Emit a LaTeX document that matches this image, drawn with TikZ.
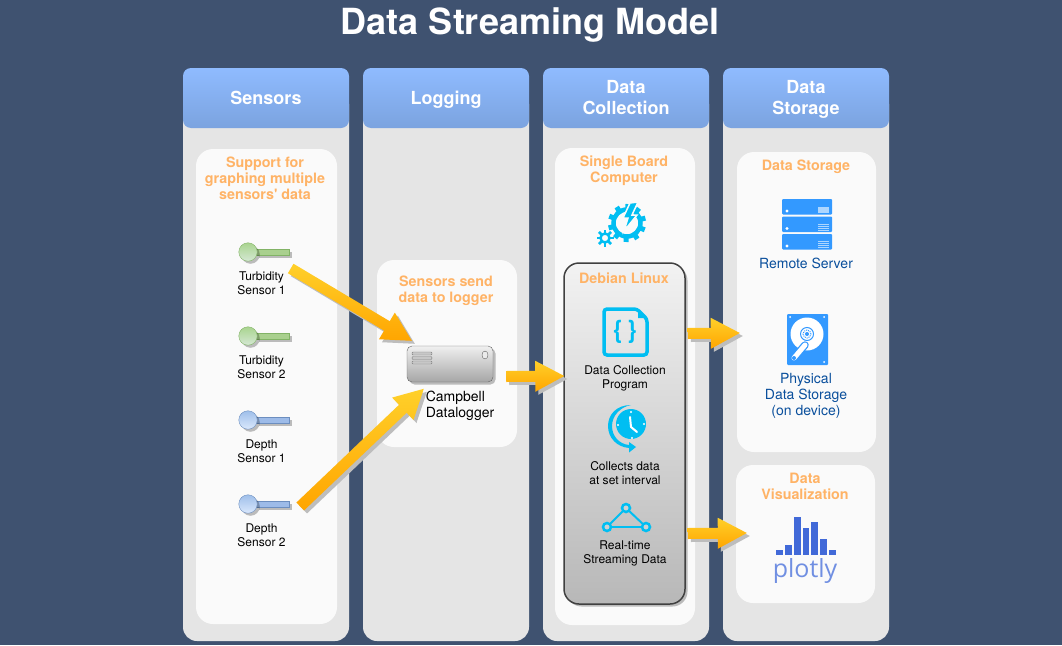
\documentclass[tikz,border=0pt]{standalone}
\usepackage{fontspec}
\setmainfont{TeX Gyre Heros}
\newfontfamily\plotlyfont{Open Sans}
\usetikzlibrary{calc, shadows}
\definecolor{bgblue}{HTML}{3F5270}
\definecolor{panelgrey}{HTML}{E5E5E5}
\definecolor{innerwhite}{HTML}{FAFAFA}
\definecolor{headtop}{HTML}{8FBBFF}
\definecolor{headbot}{HTML}{7BA3DF}
\definecolor{orangetext}{HTML}{FFB366}
\definecolor{bluetext}{HTML}{0A4F9C}
\definecolor{iconcyan}{HTML}{00BEF2}
\definecolor{iconblue}{HTML}{3399FF}
\definecolor{barblue}{HTML}{4169D8}
\definecolor{arrowtop}{HTML}{FFD02A}
\definecolor{arrowbot}{HTML}{FFA500}
\definecolor{arrowshade}{HTML}{BDBDBD}
\tikzstyle{column} = [rectangle, rounded corners=14pt, minimum width=166pt, fill=panelgrey, inner sep=0pt]
\tikzstyle{header} = [rectangle, rounded corners=8pt, minimum width=166pt, minimum height=60pt, top color=headtop, bottom color=headbot]
\tikzstyle{headtext} = [text=white, align=center, inner sep=0pt, font=\fontsize{18}{21}\selectfont\bfseries]
\tikzstyle{inner} = [rectangle, rounded corners=17pt, fill=innerwhite, inner sep=0pt]
\tikzstyle{heading} = [text=orangetext, align=center, inner sep=0pt, font=\fontsize{14.3}{16}\selectfont\bfseries]
\tikzstyle{label} = [text=black, align=center, inner sep=0pt, font=\fontsize{12}{14}\selectfont]
\tikzstyle{bluelabel} = [text=bluetext, align=center, inner sep=0pt, font=\fontsize{14}{16}\selectfont]
\tikzstyle{softshadow} = [drop shadow={shadow xshift=2.5pt, shadow yshift=-2.5pt, fill=black, opacity=0.25}]
\tikzstyle{arrow} = [draw=none, top color=arrowtop, bottom color=arrowbot, preaction={fill=arrowshade, transform canvas={shift={(3pt,-3pt)}}},
  to path={($(\tikztostart)!5.5pt!90:(\tikztotarget)$) -- ($(\tikztotarget)!29pt!(\tikztostart)!5.5pt!90:(\tikztotarget)$) -- ($(\tikztotarget)!29pt!(\tikztostart)!15.5pt!90:(\tikztotarget)$) -- (\tikztotarget) -- ($(\tikztotarget)!29pt!(\tikztostart)!15.5pt!-90:(\tikztotarget)$) -- ($(\tikztotarget)!29pt!(\tikztostart)!5.5pt!-90:(\tikztotarget)$) -- ($(\tikztostart)!5.5pt!-90:(\tikztotarget)$) -- cycle}]
\begin{document}
\begin{tikzpicture}[x=1pt, y=-1pt]
\useasboundingbox (0,0) rectangle (1062,645);
\fill [bgblue] (0,0) rectangle (1062,645);

\node (title) at (530,25.5) [text=white, inner sep=0pt, font=\fontsize{36}{40}\selectfont\bfseries] {Data Streaming Model};

% columns
\foreach \cx/\colname/\coltext in {266/sensors/Sensors, 446/logging/Logging, 626/collection/{Data\\Collection}, 806/storagecol/{Data\\Storage}} {
  \node (\colname) [column, minimum height=551pt] at (\cx,365.5) {};
  \node (\colname head) [header] at (\cx,98) {};
  \node (\colname text) [headtext] at (\cx,99.5) {\coltext\vphantom{g}};
}

% inner panels
\node (sensorbox) [inner, minimum width=141pt, minimum height=475pt] at (266.5,386.5) {};
\node (loggerbox) [inner, minimum width=140pt, minimum height=187pt] at (447,353.5) {};
\node (boardbox) [inner, minimum width=140pt, minimum height=477pt] at (625,386.5) {};
\node (storage) [inner, minimum width=139pt, minimum height=300pt] at (806.5,302) {};
\node (viz) [inner, minimum width=139pt, minimum height=138pt] at (805.5,534) {};

\node (sensorhead) [heading] at (265,178) {Support for\\graphing multiple\\sensors\textquotesingle\ data};
\node (loggerhead) [heading] at (446,291) {Sensors send\\data to logger};
\node (boardhead) [heading] at (624,171) {Single Board\\Computer};
\node (storagehead) [heading] at (806,167) {Data Storage};
\node (vizhead) [heading] at (805,486) {Data\\Visualization};

% sensors
\foreach \n/\ky/\ktop/\kbot/\kedge/\krod/\ktext in {
  1/252/A9D48F/D5E8D4/82B366/A9D08E/{Turbidity\\Sensor 1},
  2/336/A9D48F/D5E8D4/82B366/A9D08E/{Turbidity\\Sensor 2},
  3/420/9FBFEA/DAE8FC/6C8EBF/9DBBE8/{Depth\\Sensor 1},
  4/504/9FBFEA/DAE8FC/6C8EBF/9DBBE8/{Depth\\Sensor 2}} {
  \definecolor{ktopc}{HTML}{\ktop}
  \definecolor{kbotc}{HTML}{\kbot}
  \definecolor{kedgec}{HTML}{\kedge}
  \definecolor{krodc}{HTML}{\krod}
  \node (rod\n) [rectangle, softshadow, minimum width=33pt, minimum height=6pt, inner sep=0pt, draw=kedgec, fill=krodc] at (272.5,\ky) {};
  \node (key\n) [circle, softshadow, minimum size=18.5pt, inner sep=0pt, draw=kedgec, top color=ktopc, bottom color=kbotc] at (248,\ky) {};
  \node (keytext\n) [label] at (261.5,\ky+31) {\ktext};
}

% logger
\node (logger) [rectangle, softshadow, rounded corners=5pt, minimum width=86pt, minimum height=36pt, inner sep=0pt, draw=black!60, top color=black!6, bottom color=black!35] at (450,364) {};
\foreach \sy in {353.5,358,362.5}
  \draw [black!50, fill=black!22, rounded corners=1pt] (412,\sy-1.5) rectangle (432,\sy+1.5);
\draw [black!60, fill=black!8] (485,355) ellipse (3pt and 4pt);
\node (loggertext) [bluelabel, text=black, align=left] at (460,406) {Campbell\\Datalogger};

% debian box
\node (debian) [rectangle, softshadow, rounded corners=15pt, minimum width=121pt, minimum height=341pt, inner sep=0pt, draw=black!75, line width=1.5pt, top color=black!5, bottom color=black!28] at (624.5,433.5) {};
\node (debianhead) [heading] at (624,278) {Debian Linux};

% gear icon
\foreach \a in {0,36,...,324}
  \draw [iconcyan, line width=5pt] (627,223) ++(\a+15:13pt) -- ++(\a+15:6pt);
\draw [iconcyan, line width=4.5pt] (627,223) circle (13.5pt);
\foreach \a in {0,45,...,315}
  \draw [iconcyan, line width=2.5pt] (605,238) ++(\a:5pt) -- ++(\a:3.5pt);
\draw [iconcyan, line width=2.5pt] (605,238) circle (4.5pt);
\filldraw [iconcyan, draw=innerwhite, line width=1.5pt, line join=miter] (630,203) -- (638,202) -- (632,215) -- (637,215) -- (624,231) -- (628,218) -- (623,218) -- cycle;

% program icon
\draw [iconcyan, line width=3.5pt, rounded corners=3pt] (604,309) -- (637,309) -- (647,319) -- (647,355) -- (604,355) -- cycle;
\fill [iconcyan] (638,309) -- (647,318) -- (638,318) -- cycle;
\node (braces) [text=iconcyan, inner sep=0pt, font=\fontsize{25}{25}\selectfont\bfseries] at (625,332) {\{\,\}};
\node (programtext) [label] at (625,378) {Data Collection\\Program};

% clock icon
\fill [iconcyan] (631,405) .. controls (616,405) and (608,415) .. (608,426) .. controls (608,438) and (617,447) .. (629,448) -- (629,452.5) -- (636,447) -- (629,442) -- (629,445) .. controls (619,444) and (612,436) .. (612,426) .. controls (612,416) and (620,407) .. (631,405) -- cycle;
\fill [iconcyan] (631,424) circle (15pt);
\draw [white, line width=2pt, line cap=round, line join=round] (630,417) -- (631,427) -- (637,432);
\foreach \tx/\ty in {631/412, 644/424, 632/438, 618/425}
  \fill [white] (\tx,\ty) circle (1.2pt);
\node (clocktext) [label] at (625,473) {Collects data\\at set interval};

% streaming icon
\node (tria) [circle, draw=iconcyan, line width=2.5pt, fill=black!18, minimum size=8pt, inner sep=0pt] at (626,508) {};
\node (trib) [circle, draw=iconcyan, line width=2.5pt, fill=black!18, minimum size=8pt, inner sep=0pt] at (607,527) {};
\node (tric) [circle, draw=iconcyan, line width=2.5pt, fill=black!18, minimum size=8pt, inner sep=0pt] at (646,527) {};
\draw [iconcyan, line width=2pt] (tria) -- (trib);
\draw [iconcyan, line width=2pt] (trib) -- (tric);
\draw [iconcyan, line width=2pt] (tric) -- (tria);
\node (streamtext) [label] at (625,553) {Real-time\\Streaming Data};

% server icon
\foreach \uy in {199,216.5,234} {
  \fill [iconblue, rounded corners=1pt] (782,\uy) rectangle (832,\uy+15.5);
  \fill [white] (787,\uy+12) circle (1.6pt);
}
\fill [white!60!iconblue] (818,206.5) rectangle (829,213);
\foreach \ly in {224.5,226.5,228.5,230.5,242,244,246,248}
  \draw [white!60!iconblue, line width=1pt] (818,\ly-.5) -- (829,\ly-.5);
\node (servertext) [bluelabel] at (806,263) {Remote Server};

% disk icon
\fill [iconblue, rounded corners=1pt] (787,314) rectangle (828,365);
\fill [white] (807,334) circle (16.5pt);
\draw [iconblue, line width=1pt] (807,334) circle (6.5pt);
\draw [iconblue, line width=1pt, densely dotted] (807,334) circle (4pt);
\fill [iconblue] (807,334) circle (2pt);
\draw [iconblue, line width=7.5pt, line cap=round] (805,345) -- (794,358);
\draw [white, line width=5pt, line cap=round] (805,345) -- (794,358);
\fill [iconblue] (794,358) circle (2pt);
\foreach \dx/\dy in {790/317, 824/317, 824/362}
  \fill [white] (\dx,\dy) circle (1pt);
\node (disktext) [bluelabel] at (806,396) {Physical\\Data Storage\\(on device)};

% plotly
\foreach \bl/\br/\bt in {775.5/782.5/550, 784.5/791.5/544.5, 793.5/800.5/516.5, 802.5/809/527.5, 811/818/522, 819.5/826.5/539, 828.5/835.5/550}
  \fill [barblue] (\bl,\bt) rectangle (\br,555);
\node (plotly) [text=barblue!75!white, inner sep=0pt, font=\fontsize{25}{25}\selectfont\plotlyfont] at (805,571) {plotly};

% flow
\draw [arrow] ([shift={(1.5,16.5)}]rod1.east) to ([shift={(5,-5)}]logger.north west);
\draw [arrow] ([shift={(11,2.5)}]rod4.east) to ([shift={(17,43)}]logger.north west);
\draw [arrow] ([shift={(13,12.5)}]logger.east) to ([shift={(1,-57.5)}]debian.west);
\draw [arrow] ([shift={(2,-100)}]debian.east) to ([shift={(3,31)}]storage.west);
\draw [arrow] ([shift={(2,100)}]debian.east) to ([shift={(11,-1)}]viz.west);

\end{tikzpicture}
\end{document}
